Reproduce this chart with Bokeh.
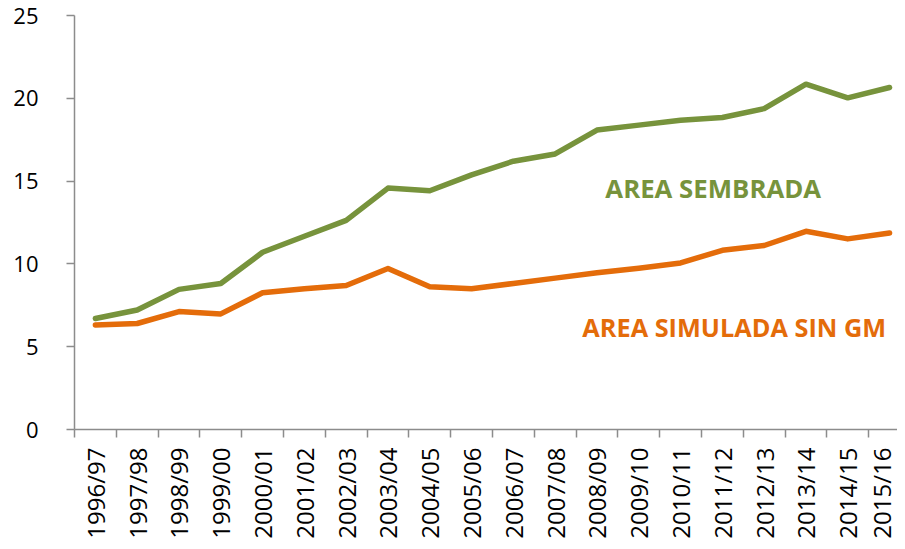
from bokeh.plotting import figure
from bokeh.models import Range1d, FixedTicker, Label
from bokeh.embed import file_html
from bokeh.resources import INLINE

categories = ["1996/97", "1997/98", "1998/99", "1999/00", "2000/01", "2001/02",
              "2002/03", "2003/04", "2004/05", "2005/06", "2006/07", "2007/08",
              "2008/09", "2009/10", "2010/11", "2011/12", "2012/13", "2013/14",
              "2014/15", "2015/16"]
area_sembrada = [6.70, 7.22, 8.46, 8.82, 10.70, 11.67, 12.63, 14.58, 14.42, 15.38,
                 16.20, 16.64, 18.08, 18.38, 18.68, 18.84, 19.38, 20.85, 20.03, 20.65]
area_simulada = [6.31, 6.40, 7.12, 6.98, 8.26, 8.50, 8.70, 9.72, 8.62, 8.50,
                 8.82, 9.14, 9.46, 9.74, 10.06, 10.82, 11.11, 11.97, 11.51, 11.87]
y_ticks = [0, 5, 10, 15, 20, 25]

GREEN = "#77933C"
ORANGE = "#E46C0A"
AXIS = "#8C8C8C"
FONT = "Open Sans"

n = len(categories)
xs = [i + 0.5 for i in range(n)]
bounds = [i for i in range(n + 1)]

p = figure(width=897, height=541, output_backend="svg", toolbar_location=None,
           x_range=Range1d(0, 19.69), y_range=Range1d(0, 25),
           min_border_left=74, min_border_top=15, min_border_bottom=110,
           min_border_right=0)
p.outline_line_color = None
p.xgrid.grid_line_color = None
p.ygrid.grid_line_color = None

p.line(xs, area_sembrada, line_color=GREEN, line_width=5.5,
       line_join="round", line_cap="round")
p.line(xs, area_simulada, line_color=ORANGE, line_width=5.5,
       line_join="round", line_cap="round")

# x axis
xa = p.xaxis[0]
xa.ticker = FixedTicker(ticks=xs, minor_ticks=bounds)
xa.major_label_overrides = {x: c for x, c in zip(xs, categories)}
xa.major_label_orientation = 3.14159265 / 2
xa.major_tick_line_color = None
xa.major_tick_out = 8
xa.major_tick_in = 0
xa.minor_tick_line_color = AXIS
xa.minor_tick_line_width = 1.5
xa.minor_tick_out = 8
xa.minor_tick_in = 0
xa.major_label_standoff = 10
xa.axis_line_color = AXIS
xa.axis_line_width = 1.5
xa.major_label_text_font = FONT
xa.major_label_text_font_size = "24px"
xa.major_label_text_color = "#000000"

# y axis
ya = p.yaxis[0]
ya.ticker = FixedTicker(ticks=y_ticks)
ya.minor_tick_line_color = None
ya.major_tick_line_color = AXIS
ya.major_tick_line_width = 1.5
ya.major_tick_out = 8
ya.major_tick_in = 0
ya.major_label_standoff = 28
ya.axis_line_color = AXIS
ya.axis_line_width = 1.5
ya.major_label_text_font = FONT
ya.major_label_text_font_size = "22px"
ya.major_label_text_color = "#000000"

p.add_layout(Label(x=12.70, y=14.6, text="AREA SEMBRADA", text_color=GREEN,
                   text_font=FONT, text_font_style="bold", text_font_size="25.8px",
                   text_baseline="middle", text_align="left"))
p.add_layout(Label(x=12.15, y=6.2, text="AREA SIMULADA SIN GM", text_color=ORANGE,
                   text_font=FONT, text_font_style="bold", text_font_size="25.3px",
                   text_baseline="middle", text_align="left"))

open("out.html", "w").write(file_html(p, INLINE))
